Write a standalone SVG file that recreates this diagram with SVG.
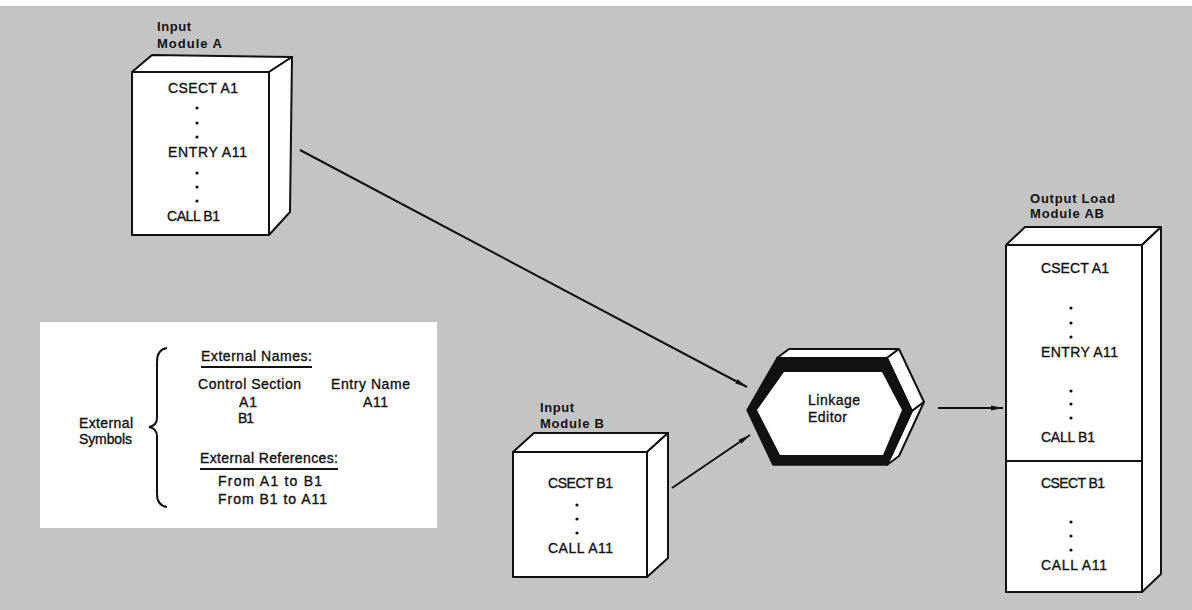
<svg xmlns="http://www.w3.org/2000/svg" width="1192" height="610" viewBox="0 0 1192 610">
<style>
.t{font-family:"Liberation Sans",Arial,sans-serif;font-size:14px;fill:#111;stroke:#111;stroke-width:0.35}
.lb{font-family:"Liberation Sans",Arial,sans-serif;font-size:13px;font-weight:bold;fill:#111}
.box{fill:#fff;stroke:#111;stroke-width:2;stroke-linejoin:round}
.ln{stroke:#111;stroke-width:2;fill:none}
.dot{fill:#111}
</style>
<defs>
<marker id="ah" viewBox="0 0 12 6" refX="12" refY="3" markerWidth="12" markerHeight="6" markerUnits="userSpaceOnUse" orient="auto">
<path d="M0,0.5 L12,3 L0,5.5 Z" fill="#111"/>
</marker>
</defs>
<rect x="0" y="0" width="1192" height="610" fill="#fff"/>
<rect x="0" y="6" width="1192" height="604" fill="#c4c4c4"/>

<g id="legend">
<rect x="40" y="322" width="397" height="206" fill="#fff"/>
<path class="ln" d="M167,348 C160,349 157,354 157,362 L157,418 C157,423 154,426 149,427 C154,428 157,431 157,436 L157,494 C157,502 160,506 167,507"/>
<text class="t" x="79" y="428" textLength="54">External</text>
<text class="t" x="79" y="444" textLength="53">Symbols</text>
<text class="t" x="201" y="361" textLength="111">External Names:</text>
<line class="ln" x1="201" y1="367" x2="312" y2="367"/>
<text class="t" x="198" y="389" textLength="103">Control Section</text>
<text class="t" x="331" y="389" textLength="79">Entry Name</text>
<text class="t" x="239" y="407" textLength="18">A1</text>
<text class="t" x="363" y="407" textLength="25">A11</text>
<text class="t" x="238" y="423" textLength="16">B1</text>
<text class="t" x="200" y="463" textLength="138">External References:</text>
<line class="ln" x1="200" y1="469" x2="338" y2="469"/>
<text class="t" x="218" y="486" textLength="104">From A1 to B1</text>
<text class="t" x="218" y="504" textLength="109">From B1 to A11</text>
</g>

<g id="moduleA">
<text class="lb" x="157" y="31" textLength="34">Input</text>
<text class="lb" x="157" y="48" textLength="65">Module A</text>
<polygon class="box" points="132,72 152,55 292,57 269,72"/>
<polygon class="box" points="269,72 292,57 290,212 269,235"/>
<rect class="box" x="132" y="72" width="137" height="163"/>
<text class="t" x="168" y="93" textLength="70">CSECT A1</text>
<circle class="dot" cx="197" cy="108" r="1.6"/><circle class="dot" cx="197" cy="123" r="1.6"/><circle class="dot" cx="197" cy="137" r="1.6"/>
<text class="t" x="168" y="157" textLength="79">ENTRY A11</text>
<circle class="dot" cx="197" cy="173" r="1.6"/><circle class="dot" cx="197" cy="187" r="1.6"/><circle class="dot" cx="197" cy="201" r="1.6"/>
<text class="t" x="167" y="221" textLength="53">CALL B1</text>
</g>

<g id="moduleB">
<text class="lb" x="540" y="412" textLength="34">Input</text>
<text class="lb" x="540" y="428" textLength="64">Module B</text>
<polygon class="box" points="513,452 534,433 668,433 647,452"/>
<polygon class="box" points="647,452 668,433 668,558 647,577"/>
<rect class="box" x="513" y="452" width="134" height="125"/>
<text class="t" x="548" y="488" textLength="65">CSECT B1</text>
<circle class="dot" cx="577" cy="505" r="1.6"/><circle class="dot" cx="577" cy="519" r="1.6"/><circle class="dot" cx="577" cy="533" r="1.6"/>
<text class="t" x="548" y="553" textLength="65">CALL A11</text>
</g>

<g id="linkage">
<polygon class="box" points="777,358 789,349 899,349 887,358"/>
<polygon class="box" points="887,358 899,349 924,402 912,411"/>
<polygon class="box" points="912,411 924,402 899,456 887,465"/>
<polygon points="747,410 777,358 887,358 912,411 887,465 773,465" fill="#111" stroke="#111" stroke-width="1.5" stroke-linejoin="round"/>
<polygon points="757,410 784,372 882,372 902,410 883,455 780,455" fill="#fff"/>
<text class="t" x="808" y="405" textLength="52">Linkage</text>
<text class="t" x="808" y="422" textLength="39">Editor</text>
</g>

<g id="output">
<text class="lb" x="1030" y="203" textLength="85">Output Load</text>
<text class="lb" x="1030" y="218" textLength="74">Module AB</text>
<polygon class="box" points="1006,245 1025,227 1161,227 1142,245"/>
<polygon class="box" points="1142,245 1161,227 1161,574 1142,592"/>
<rect class="box" x="1006" y="245" width="136" height="347"/>
<line class="ln" x1="1006" y1="461" x2="1142" y2="461"/>
<text class="t" x="1041" y="273" textLength="68">CSECT A1</text>
<circle class="dot" cx="1071" cy="308" r="1.6"/><circle class="dot" cx="1071" cy="323" r="1.6"/><circle class="dot" cx="1071" cy="337" r="1.6"/>
<text class="t" x="1041" y="357" textLength="77">ENTRY A11</text>
<circle class="dot" cx="1071" cy="391" r="1.6"/><circle class="dot" cx="1071" cy="404" r="1.6"/><circle class="dot" cx="1071" cy="418" r="1.6"/>
<text class="t" x="1041" y="442" textLength="54">CALL B1</text>
<text class="t" x="1041" y="488" textLength="64">CSECT B1</text>
<circle class="dot" cx="1071" cy="522" r="1.6"/><circle class="dot" cx="1071" cy="536" r="1.6"/><circle class="dot" cx="1071" cy="550" r="1.6"/>
<text class="t" x="1041" y="570" textLength="66">CALL A11</text>
</g>

<g id="connectors">
<line class="ln" x1="300" y1="150" x2="747" y2="387" marker-end="url(#ah)"/>
<line class="ln" x1="672" y1="488" x2="750" y2="435" marker-end="url(#ah)"/>
<line class="ln" x1="938" y1="408" x2="1003" y2="408" marker-end="url(#ah)"/>
</g>
</svg>
